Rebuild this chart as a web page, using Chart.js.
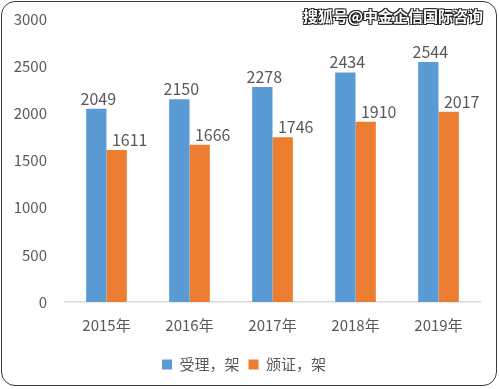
<!DOCTYPE html>
<html>
<head>
<meta charset="utf-8">
<script src="https://cdn.jsdelivr.net/npm/chart.js@4/dist/chart.umd.min.js"></script>
<style>
  html, body { margin: 0; padding: 0; background: #fff; }
  #wrap { position: relative; width: 499px; height: 389px; }
  #frame {
    position: absolute; left: 1px; top: 1px; width: 494px; height: 383px;
    border: 1.5px solid #3a3a3a; border-radius: 14px; pointer-events: none;
  }
  #mark {
    position: absolute; right: 16px; top: 5px;
    font-family: "Noto Sans CJK SC", sans-serif; font-size: 15px; font-weight: bold;
    color: #fff;
    text-shadow: -1px -1px 0 #222, 1px -1px 0 #222, -1px 1px 0 #222, 1px 1px 0 #222;
  }
</style>
</head>
<body>
<div id="wrap">
  <canvas id="chart" width="499" height="389"></canvas>
  <div id="frame"></div>
  <div id="mark">搜狐号@中金企信国际咨询</div>
</div>
<script>
const years = ['2015年', '2016年', '2017年', '2018年', '2019年']
const accepted = [2049, 2150, 2278, 2434, 2544]
const certified = [1611, 1666, 1746, 1910, 2017]
const seriesNames = ['受理，架', '颁证，架']

const textColor = '#595959'
const fontFamily = '"Noto Sans CJK SC", "Open Sans", sans-serif'

// simple value labels above bars
const barLabels = {
  id: 'barLabels',
  afterDatasetsDraw(chart) {
    const ctx = chart.ctx
    ctx.save()
    ctx.fillStyle = textColor
    ctx.font = '16px ' + fontFamily
    ctx.textAlign = 'center'
    ctx.textBaseline = 'bottom'
    chart.data.datasets.forEach((ds, i) => {
      const meta = chart.getDatasetMeta(i)
      meta.data.forEach((bar, j) => {
        const dx = i === 0 ? 2 : 13
        ctx.fillText(ds.data[j], bar.x + dx, bar.y - 2)
      })
    })
    ctx.restore()
  }
}

const ctx = document.getElementById('chart').getContext('2d')
new Chart(ctx, {
  type: 'bar',
  data: {
    labels: years,
    datasets: [
      { label: seriesNames[0], data: accepted, backgroundColor: '#5B9BD5' },
      { label: seriesNames[1], data: certified, backgroundColor: '#ED7D31' }
    ]
  },
  options: {
    responsive: false,
    animation: false,
    layout: { padding: { left: 8, top: 19, right: 19, bottom: 7 } },
    datasets: { bar: { categoryPercentage: 0.49, barPercentage: 1.0 } },
    scales: {
      x: {
        grid: { display: false, drawTicks: false },
        border: { display: true, color: '#d9d9d9', width: 1.5 },
        ticks: { color: textColor, font: { family: fontFamily, size: 15 }, padding: 14 }
      },
      y: {
        min: 0,
        max: 3000,
        grid: { display: false, drawTicks: false },
        border: { display: false },
        afterFit(scale) {
          scale.width = 57
          scale.paddingTop = 0
          scale.paddingBottom = 0
        },
        ticks: {
          stepSize: 500,
          color: textColor,
          font: { family: fontFamily, size: 15 },
          padding: 18,
          callback: v => String(v)
        }
      }
    },
    plugins: {
      legend: {
        position: 'bottom',
        labels: {
          color: textColor,
          font: { family: fontFamily, size: 15 },
          boxWidth: 10,
          boxHeight: 10,
          padding: 9
        }
      },
      tooltip: { enabled: false }
    }
  },
  plugins: [barLabels]
})
</script>
</body>
</html>
